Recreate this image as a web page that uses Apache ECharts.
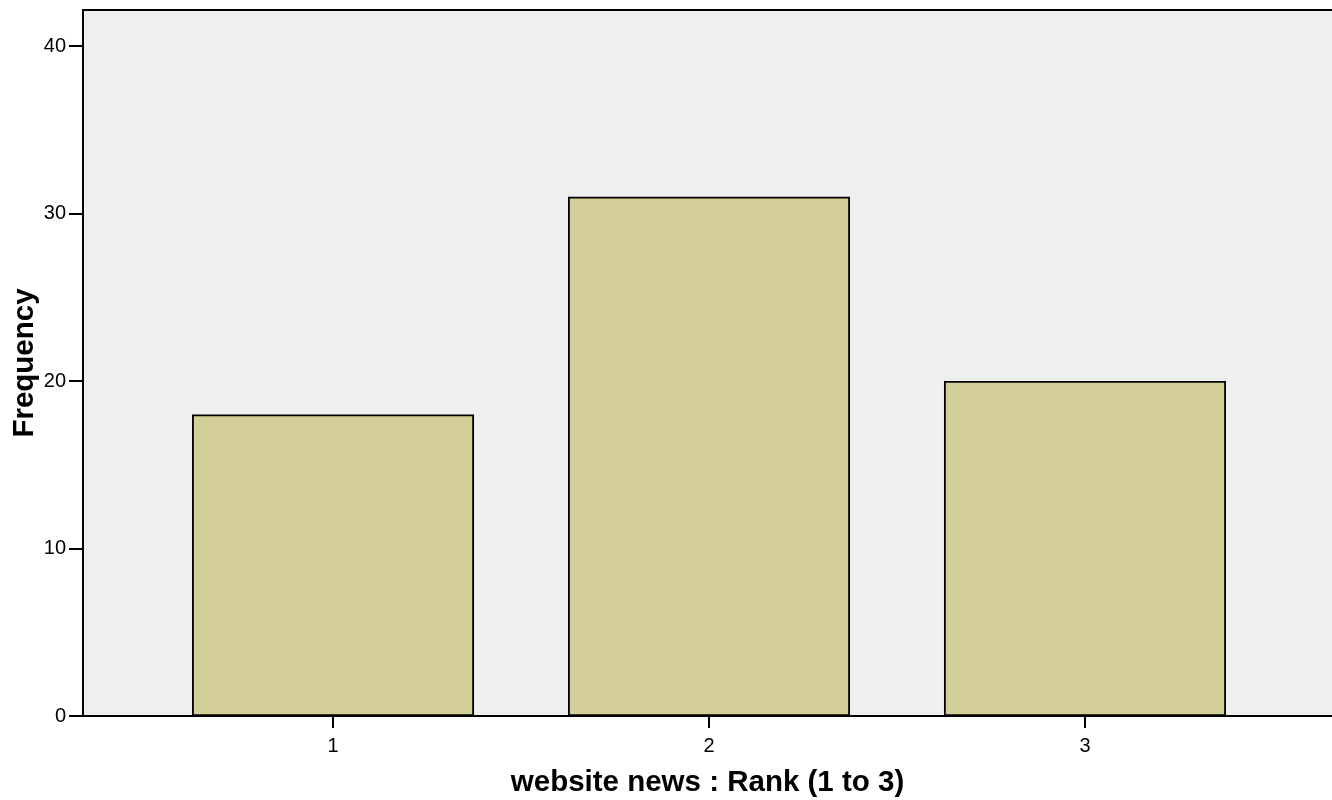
<!DOCTYPE html>
<html>
<head>
<meta charset="utf-8">
<script src="https://cdn.jsdelivr.net/npm/echarts@6/dist/echarts.min.js"></script>
<style>
html,body{margin:0;padding:0;background:#fff;}
#chart{width:1332px;height:800px;}
</style>
</head>
<body>
<div id="chart"></div>
<script>
const categories = [1, 2, 3];
const frequencies = [18, 31, 20];
const yTicks = [0, 10, 20, 30, 40];
const xTitle = 'website news : Rank (1 to 3)';
const yTitle = 'Frequency';

const chart = echarts.init(document.getElementById('chart'));
const font = 'Liberation Sans, Arial, sans-serif';
chart.setOption({
  animation: false,
  grid: {
    left: 83, right: 0, top: 10, bottom: 84,
    outerBoundsMode: 'none', containLabel: false,
    show: true, backgroundColor: '#efefef', borderWidth: 0
  },
  xAxis: [{
    type: 'value', min: 0.335, max: 3.657,
    position: 'bottom',
    name: xTitle, nameLocation: 'middle', nameGap: 52, nameMoveOverlap: false,
    nameTextStyle: {fontFamily: font, fontWeight: 'bold', fontSize: 29.5, color: '#000'},
    axisLine: {show: true, lineStyle: {color: '#000', width: 2}},
    axisTick: {show: true, length: 12, lineStyle: {color: '#000', width: 2}, customValues: categories},
    axisLabel: {show: true, margin: 20, fontFamily: font, fontSize: 20, color: '#000', customValues: categories},
    splitLine: {show: false}
  }, {
    type: 'value', min: 0.335, max: 3.657,
    position: 'top',
    axisLine: {show: true, lineStyle: {color: '#000', width: 2}},
    axisTick: {show: false}, axisLabel: {show: false}, splitLine: {show: false}
  }],
  yAxis: {
    type: 'value', min: 0, max: 42.15,
    name: yTitle, nameLocation: 'middle', nameGap: 43, nameRotate: 90, nameMoveOverlap: false,
    nameTextStyle: {fontFamily: font, fontWeight: 'bold', fontSize: 29.5, color: '#000'},
    axisLine: {show: true, lineStyle: {color: '#000', width: 2}},
    axisTick: {show: true, length: 14, lineStyle: {color: '#000', width: 2}, customValues: yTicks},
    axisLabel: {show: true, margin: 17, fontFamily: font, fontSize: 20, color: '#000', customValues: yTicks},
    splitLine: {show: false}
  },
  series: [{
    type: 'bar',
    xAxisIndex: 0,
    data: categories.map((c, i) => [c, frequencies[i]]),
    barWidth: 282,
    itemStyle: {color: '#d3ce98', borderColor: '#000', borderWidth: 1.8}
  }]
});
</script>
</body>
</html>
